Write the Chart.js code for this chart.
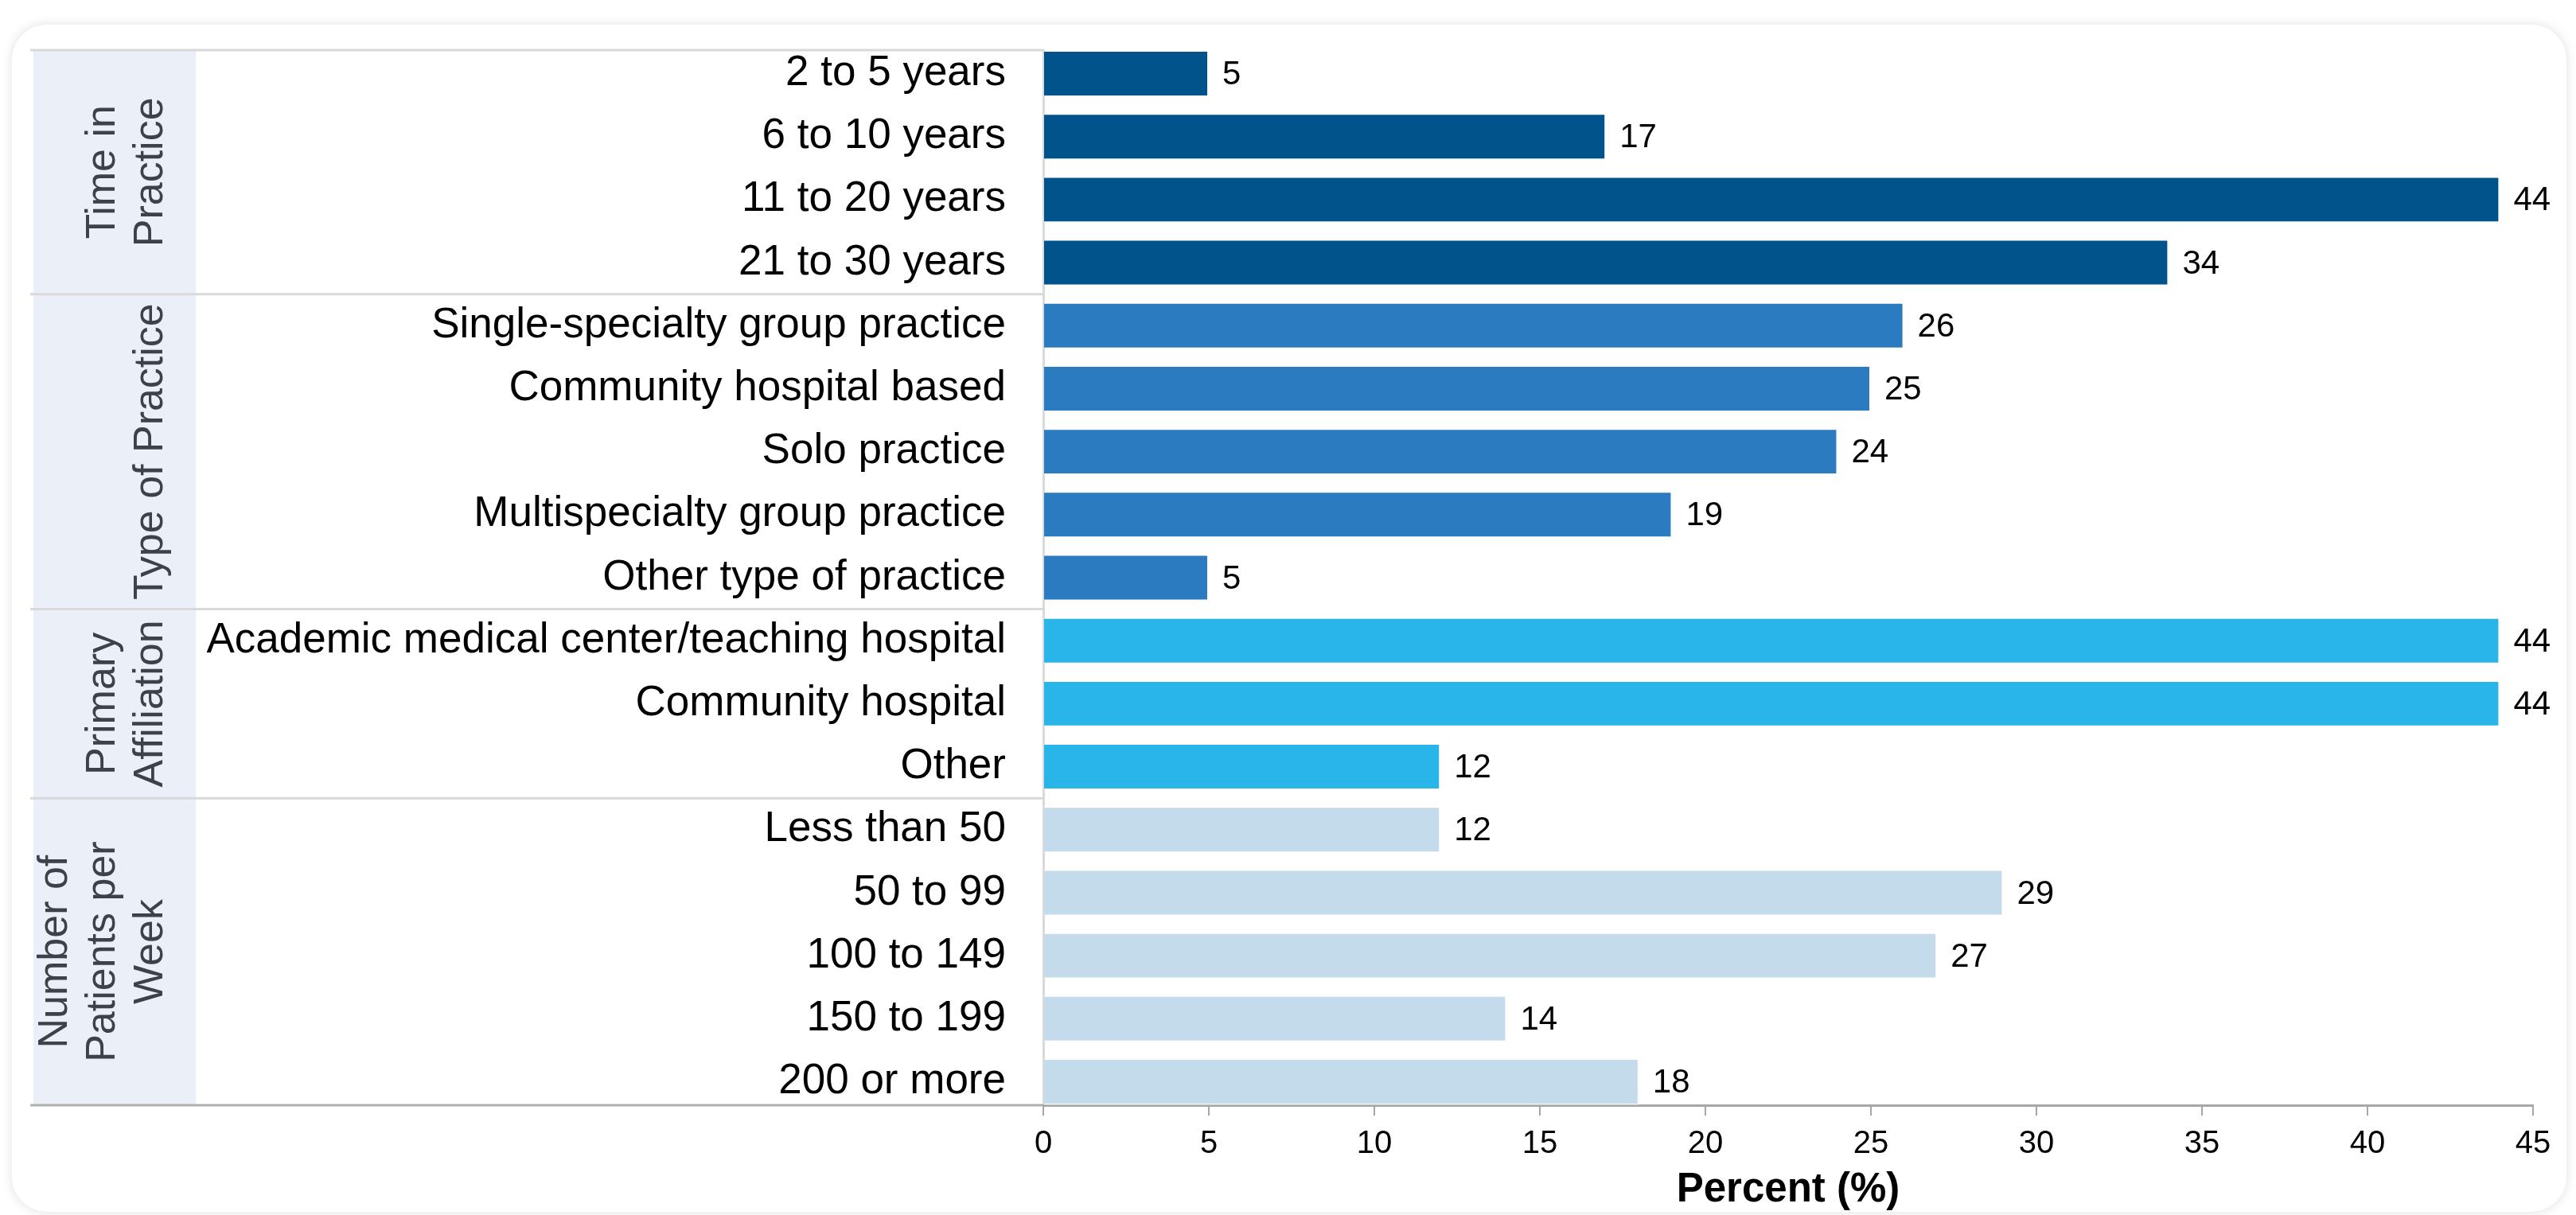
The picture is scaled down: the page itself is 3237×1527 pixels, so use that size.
<!DOCTYPE html>
<html>
<head>
<meta charset="utf-8">
<script src="https://cdn.jsdelivr.net/npm/chart.js@4.4.1/dist/chart.umd.min.js"></script>
<style>
  html, body { margin: 0; padding: 0; background: #ffffff; }
  body { width: 3237px; height: 1527px; position: relative; overflow: hidden; }
  #card {
    position: absolute; left: 15px; top: 31px; width: 3210px; height: 1492px;
    background: #ffffff; border-radius: 44px;
    box-shadow: 0 0 14px rgba(0, 0, 0, 0.13);
  }
  #chart { position: absolute; left: 0; top: 0; }
</style>
</head>
<body>
<div id="card"></div>
<canvas id="chart" width="3237" height="1527"></canvas>
<script>
// Survey respondents, % per group
const timeLabels = ["2 to 5 years", "6 to 10 years", "11 to 20 years", "21 to 30 years"];
const timeValues = [5, 17, 44, 34];

const typeLabels = ["Single-specialty group practice", "Community hospital based", "Solo practice",
  "Multispecialty group practice", "Other type of practice"];
const typeValues = [26, 25, 24, 19, 5];

const affiliationLabels = ["Academic medical center/teaching hospital", "Community hospital", "Other"];
const affiliationValues = [44, 44, 12];

const patientLabels = ["Less than 50", "50 to 99", "100 to 149", "150 to 199", "200 or more"];
const patientValues = [12, 29, 27, 14, 18];

const xTicks = [0, 5, 10, 15, 20, 25, 30, 35, 40, 45];

// group name lines (rotated on the left band) and bar colour per group
const groups = [
  { lines: ["Time in", "Practice"], labels: timeLabels, values: timeValues, color: "#01538b" },
  { lines: ["Type of Practice"], labels: typeLabels, values: typeValues, color: "#2a7bbf" },
  { lines: ["Primary", "Affiliation"], labels: affiliationLabels, values: affiliationValues, color: "#29b5e8" },
  { lines: ["Number of", "Patients per", "Week"], labels: patientLabels, values: patientValues, color: "#c4dbeb" },
];

const FONT = '"Liberation Sans", Arial, Helvetica, sans-serif';

const labels = [], values = [], colors = [];
groups.forEach((g) => {
  g.labels.forEach((l, i) => {
    labels.push(l);
    values.push(g.values[i]);
    colors.push(g.color);
  });
});

// first/last bar sit flush with the top line and the axis
const EDGE = 0.3725;

// left band with group names + separator lines
const groupBands = {
  id: "groupBands",
  beforeDraw(chart) {
    const { ctx, chartArea } = chart;
    const y = chart.scales.y;
    ctx.save();
    ctx.fillStyle = "#ebf0f8";
    ctx.fillRect(42, chartArea.top, 204, chartArea.bottom - chartArea.top);

    ctx.lineWidth = 3;
    let start = 0;
    const bounds = [chartArea.top];
    groups.forEach((g, gi) => {
      const end = start + g.labels.length - 1;
      const top = gi === 0 ? chartArea.top : y.getPixelForValue(start - 0.5);
      const bottom = gi === groups.length - 1 ? chartArea.bottom : y.getPixelForValue(end + 0.5);
      bounds.push(bottom);

      ctx.fillStyle = "#3d4249";
      ctx.font = "52px " + FONT;
      ctx.textAlign = "center";
      ctx.textBaseline = "middle";
      const cy = (top + bottom) / 2;
      const n = g.lines.length;
      g.lines.forEach((line, i) => {
        ctx.save();
        ctx.translate(190 - (n - 1 - i) * 60, cy);
        ctx.rotate(-Math.PI / 2);
        ctx.fillText(line, 0, 0);
        ctx.restore();
      });
      start += g.labels.length;
    });
    bounds.forEach((b, i) => {
      ctx.beginPath();
      ctx.strokeStyle = i === bounds.length - 1 ? "#b0b0b0" : "#d9d9d9";
      ctx.moveTo(38, b);
      ctx.lineTo(chartArea.left, b);
      ctx.stroke();
    });
    ctx.restore();
  },
};

// value labels at the end of each bar
const valueLabels = {
  id: "valueLabels",
  afterDatasetsDraw(chart) {
    const { ctx } = chart;
    const meta = chart.getDatasetMeta(0);
    ctx.save();
    ctx.fillStyle = "#000000";
    ctx.font = "42px " + FONT;
    ctx.textAlign = "left";
    ctx.textBaseline = "middle";
    meta.data.forEach((bar, i) => {
      ctx.fillText(String(values[i]), bar.x + 17, bar.y + 2);
    });
    ctx.restore();
  },
};

new Chart(document.getElementById("chart"), {
  type: "bar",
  data: {
    labels,
    datasets: [
      {
        data: values.map((v, i) => ({ x: v, y: i })),
        backgroundColor: colors,
        borderColor: "rgba(255,255,255,0.35)",
        borderWidth: 2,
        barPercentage: 0.745,
        categoryPercentage: 1,
      },
    ],
  },
  options: {
    indexAxis: "y",
    responsive: false,
    animation: false,
    devicePixelRatio: 1,
    layout: { padding: { left: 0, top: 63, right: 54, bottom: 0 } },
    plugins: { legend: { display: false }, tooltip: { enabled: false } },
    scales: {
      y: {
        type: "linear",
        reverse: true,
        offset: false,
        min: -EDGE,
        max: labels.length - 1 + EDGE,
        afterBuildTicks: (scale) => { scale.ticks = labels.map((l, i) => ({ value: i })); },
        afterFit: (scale) => {
          scale.width = 1311;
          scale.paddingTop = 0;
          scale.paddingBottom = 0;
        },
        grid: { offset: false, drawOnChartArea: false, drawTicks: false },
        border: { display: true, color: "#d9d9d9", width: 3 },
        ticks: {
          autoSkip: false,
          color: "#000000",
          padding: 47,
          font: { family: FONT, size: 53 },
          callback: (v) => labels[v],
        },
      },
      x: {
        min: 0,
        max: 45,
        afterFit: (scale) => { scale.height = 138; },
        afterBuildTicks: (scale) => { scale.ticks = xTicks.map((v) => ({ value: v })); },
        grid: { drawOnChartArea: false, drawTicks: true, tickLength: 13, color: "#a6a6a6", lineWidth: 2 },
        border: { display: true, color: "#a6a6a6", width: 3 },
        ticks: {
          color: "#000000",
          padding: 12,
          maxRotation: 0,
          font: { family: FONT, size: 40 },
        },
        title: {
          display: true,
          text: "Percent (%)",
          color: "#000000",
          padding: { top: 0, bottom: 0 },
          font: { family: FONT, size: 51, weight: "bold" },
        },
      },
    },
  },
  plugins: [groupBands, valueLabels],
});
</script>
</body>
</html>
